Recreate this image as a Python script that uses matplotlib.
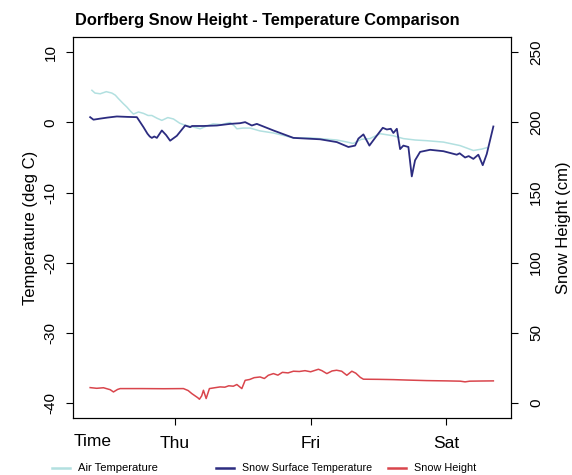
import matplotlib
matplotlib.use("Agg")
import matplotlib.pyplot as plt
from matplotlib.lines import Line2D

# hours relative to Thu 00:00
air_hours = [-14.75, -14.2, -13.28, -12.2, -11.21, -10.6, -10.04, -9.2, -8.55, -7.9,
             -7.39, -6.5, -5.61, -4.8, -4.13, -3.2, -2.36, -1.3, -0.3, 0.8,
             1.77, 3.0, 4.43, 5.6, 6.73, 8.2, 9.74, 10.5, 10.93, 12.0,
             13.28, 15.0, 17.41, 20.95, 24.0, 28.64, 30.5, 31.53, 33.0, 34.5,
             36.31, 38.66, 40.43, 42.5, 44.58, 47.52, 50.47, 52.83, 54.32, 55.2]
air_temp = [4.6, 4.2, 4.1, 4.4, 4.2, 3.9, 3.4, 2.7, 2.2, 1.6,
            1.2, 1.5, 1.3, 1.0, 1.0, 0.6, 0.3, 0.7, 0.5, -0.1,
            -0.4, -0.6, -0.9, -0.5, -0.2, -0.3, 0.0, -0.5, -0.9, -0.8,
            -0.8, -1.2, -1.5, -2.2, -2.2, -2.5, -2.8, -3.0, -2.4, -2.3,
            -1.6, -1.9, -2.3, -2.5, -2.6, -2.8, -3.3, -4.0, -3.8, -3.6]

surf_hours = [-15.06, -14.47, -13.3, -12.0, -10.33, -8.5, -6.78, -6.2, -5.61, -4.91,
              -4.5, -4.13, -3.7, -3.24, -2.36, -1.6, -0.89, 0.3, 1.77, 2.66,
              3.0, 5.0, 7.39, 9.74, 11.5, 12.4, 13.58, 14.47, 17.41, 20.95,
              25.68, 28.64, 30.69, 31.88, 32.46, 33.35, 34.41, 35.42, 36.78, 37.5,
              38.2, 38.66, 39.27, 39.85, 40.43, 41.32, 41.92, 42.5, 43.39, 45.16,
              47.52, 49.89, 50.4, 51.36, 52.0, 52.83, 53.71, 54.49, 55.2, 56.37]
surf_temp = [0.76, 0.4, 0.55, 0.7, 0.86, 0.8, 0.76, 0.05, -0.67, -1.6,
             -2.0, -2.2, -2.0, -2.2, -1.14, -1.8, -2.6, -1.9, -0.43, -0.67,
             -0.5, -0.5, -0.43, -0.2, -0.1, 0.05, -0.43, -0.2, -1.14, -2.2,
             -2.4, -2.8, -3.5, -3.3, -2.3, -1.7, -3.3, -2.2, -0.76, -1.0,
             -0.9, -1.5, -0.9, -3.8, -3.3, -3.5, -7.7, -5.4, -4.2, -3.9,
             -4.1, -4.6, -4.4, -5.0, -4.8, -5.2, -4.6, -6.1, -4.5, -0.57]

snow_hours = [-15.06, -13.9, -12.7, -11.5, -10.93, -10.2, -9.74, -6.0, -2.0, 1.47,
              2.3, 2.96, 4.0, 4.3, 4.7, 5.01, 5.49, 6.07, 7.0, 7.97,
              8.8, 9.5, 10.3, 10.93, 11.81, 12.4, 13.2, 14.0, 15.05, 15.8,
              16.5, 17.41, 18.2, 19.0, 20.0, 20.95, 22.0, 23.0, 24.0, 25.38,
              26.0, 26.87, 27.8, 28.6, 29.5, 30.41, 31.3, 32.0, 32.8, 33.35,
              36.0, 38.66, 41.0, 44.58, 48.0, 50.5, 51.36, 52.2, 54.0, 56.37]
snow_height = [10.7, 10.2, 10.6, 9.2, 7.6, 9.4, 10.0, 10.0, 9.9, 10.0,
               8.6, 6.4, 3.5, 2.4, 4.8, 8.8, 2.9, 10.0, 10.6, 11.2,
               11.0, 12.0, 11.7, 12.9, 10.0, 15.9, 16.5, 17.8, 18.3, 17.2,
               19.5, 20.7, 19.6, 21.6, 21.2, 22.4, 22.2, 22.8, 22.0, 23.8,
               22.8, 20.7, 22.6, 23.1, 22.4, 19.5, 22.4, 21.0, 18.0, 16.7,
               16.6, 16.4, 16.1, 15.7, 15.5, 15.3, 14.8, 15.3, 15.4, 15.5]

day_ticks = [0, 24, 48]
day_labels = ["Thu", "Fri", "Sat"]
temp_ticks = [-40, -30, -20, -10, 0, 10]
snow_ticks = [0, 50, 100, 150, 200, 250]

c_air = "#b2e0e0"
c_surf = "#2c2c80"
c_snow = "#d9454c"
plt.rcParams["font.family"] = ["Liberation Sans", "DejaVu Sans"]

fig = plt.figure(figsize=(5.72, 4.75), dpi=100)
renderer = fig.canvas.get_renderer()


def fit_width(txt, target_px):
    # scale a text so its drawn width is close to the reference
    w = txt.get_window_extent(renderer).width
    txt.set_fontsize(txt.get_fontsize() * target_px / w)


ax = fig.add_axes([0.1276, 0.12, 0.7658, 0.802])
ax.plot(air_hours, air_temp, color=c_air, lw=1.1)
ax.plot(surf_hours, surf_temp, color=c_surf, lw=1.3)
ax.set_xlim(-18.1, 59.5)
ax.set_ylim(-42.2, 12.2)
ax.set_yticks(temp_ticks)
ax.set_yticklabels([str(t) for t in temp_ticks], rotation=90, va="center", fontsize=11)
ax.set_xticks(day_ticks)
ax.set_xticklabels(day_labels, fontsize=12.5)
ax.tick_params(direction="out", length=5, width=0.8, pad=6)
ax.tick_params(axis="x", pad=8)
ax.set_ylabel("Temperature (deg C)", fontsize=12)
ax.yaxis.set_label_coords(-0.081, 0.5)

ax2 = ax.twinx()
ax2.plot(snow_hours, snow_height, color=c_snow, lw=1.1)
ax2.set_ylim(-11, 261)
ax2.set_yticks(snow_ticks)
ax2.set_yticklabels([str(t) for t in snow_ticks], rotation=90, va="center", fontsize=11)
ax2.tick_params(direction="out", length=5, width=0.8, pad=8)
ax2.set_ylabel("Snow Height (cm)", fontsize=12)
ax2.yaxis.set_label_coords(1.103, 0.5)

for a in (ax, ax2):
    for s in a.spines.values():
        s.set_linewidth(0.8)

title = fig.text(267 / 572, 1 - 20 / 475, "Dorfberg Snow Height - Temperature Comparison",
                 ha="center", va="center", fontsize=14, fontweight="bold")
fit_width(title, 385)
fig.text(93 / 572, 1 - 442 / 475, "Time", ha="center", va="center", fontsize=12.5)

# legend row under the axis
legend_items = [("Air Temperature", c_air, 52, 80), ("Snow Surface Temperature", c_surf, 216, 128),
                ("Snow Height", c_snow, 388, 62)]
ly = 1 - 468 / 475
for label, color, x0, w in legend_items:
    fig.add_artist(Line2D([x0 / 572, (x0 + 18) / 572], [ly, ly], color=color, lw=1.8))
    lt = fig.text((x0 + 26) / 572, ly, label, ha="left", va="center", fontsize=9)
    fit_width(lt, w)

fig.savefig("out.png", dpi=100)
